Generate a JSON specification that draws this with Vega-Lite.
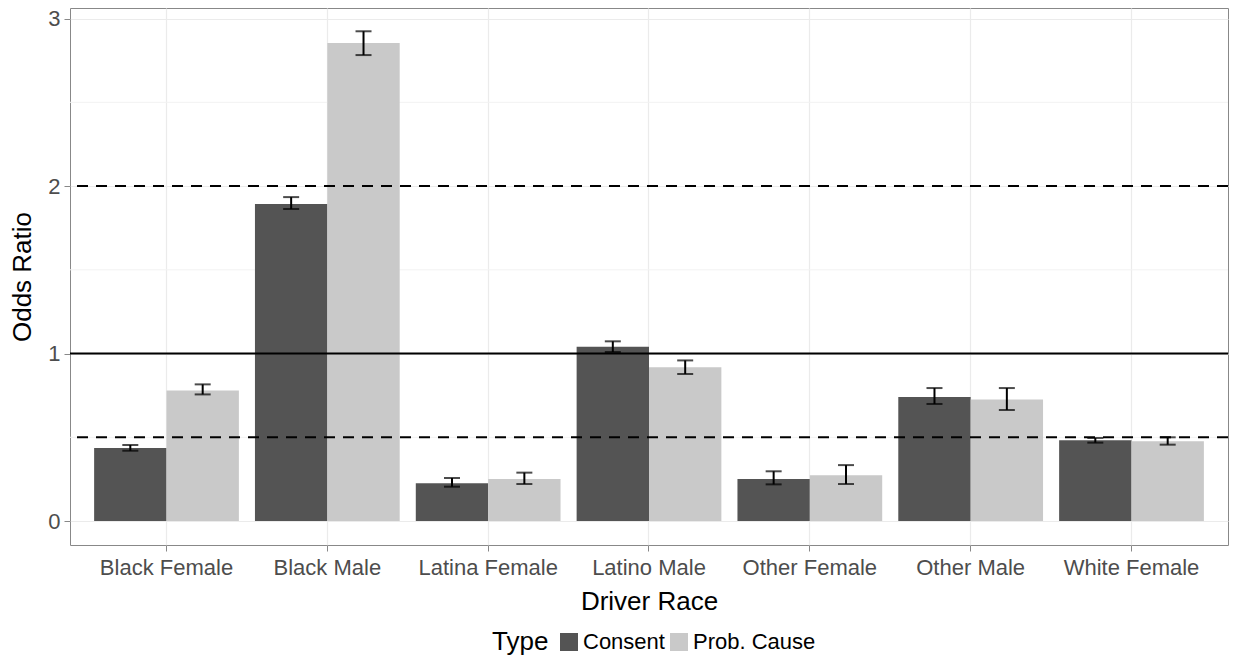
{
  "$schema": "https://vega.github.io/schema/vega-lite/v6.json",
  "width": 1158,
  "height": 537,
  "autosize": {"type": "none"},
  "padding": {"left": 70, "top": 8, "right": 5, "bottom": 113},
  "background": "white",
  "config": {
    "font": "Liberation Sans",
    "view": {"stroke": "#888888", "strokeWidth": 1},
    "axis": {"domain": false, "labelFont": "Liberation Sans", "titleFont": "Liberation Sans", "titleFontWeight": "normal", "titleColor": "#000000", "labelColor": "#4d4d4d", "tickColor": "#888888", "gridColor": "#ebebeb", "gridWidth": 1.2}
  },
  "datasets": {
    "odds": [
      {"race": "Black Female", "type": "Consent", "or": 0.436, "lo": 0.42, "hi": 0.454},
      {"race": "Black Female", "type": "Prob. Cause", "or": 0.78, "lo": 0.756, "hi": 0.816},
      {"race": "Black Male", "type": "Consent", "or": 1.893, "lo": 1.863, "hi": 1.934},
      {"race": "Black Male", "type": "Prob. Cause", "or": 2.854, "lo": 2.782, "hi": 2.924},
      {"race": "Latina Female", "type": "Consent", "or": 0.225, "lo": 0.205, "hi": 0.257},
      {"race": "Latina Female", "type": "Prob. Cause", "or": 0.251, "lo": 0.221, "hi": 0.289},
      {"race": "Latino Male", "type": "Consent", "or": 1.041, "lo": 1.009, "hi": 1.073},
      {"race": "Latino Male", "type": "Prob. Cause", "or": 0.918, "lo": 0.878, "hi": 0.959},
      {"race": "Other Female", "type": "Consent", "or": 0.251, "lo": 0.219, "hi": 0.297},
      {"race": "Other Female", "type": "Prob. Cause", "or": 0.273, "lo": 0.221, "hi": 0.334},
      {"race": "Other Male", "type": "Consent", "or": 0.74, "lo": 0.699, "hi": 0.794},
      {"race": "Other Male", "type": "Prob. Cause", "or": 0.726, "lo": 0.663, "hi": 0.794},
      {"race": "White Female", "type": "Consent", "or": 0.482, "lo": 0.468, "hi": 0.496},
      {"race": "White Female", "type": "Prob. Cause", "or": 0.476, "lo": 0.456, "hi": 0.5}
    ]
  },
  "layer": [
    {
      "data": {"values": [{"y": 0.5}, {"y": 1.5}, {"y": 2.5}]},
      "mark": {"type": "rule", "color": "#f2f2f2", "strokeWidth": 1},
      "encoding": {"y": {"field": "y", "type": "quantitative", "scale": {"domain": [-0.143, 3.063], "nice": false, "zero": false}}}
    },
    {
      "data": {"name": "odds"},
      "mark": {"type": "bar"},
      "encoding": {
        "x": {
          "field": "race", "type": "nominal", "title": "Driver Race",
          "scale": {"paddingInner": 0.1, "paddingOuter": 0.15},
          "axis": {"labelAngle": 0, "labelFontSize": 22, "titleFontSize": 26, "tickSize": 6, "labelPadding": 6, "titlePadding": 10, "bandPosition": 0.5, "grid": true}
        },
        "xOffset": {"field": "type", "type": "nominal", "scale": {"paddingInner": 0, "paddingOuter": 0}},
        "y": {
          "field": "or", "type": "quantitative", "title": "Odds Ratio",
          "scale": {"domain": [-0.143, 3.063], "nice": false, "zero": false},
          "axis": {"values": [0, 1, 2, 3], "format": "d", "labelFontSize": 22, "titleFontSize": 26, "tickSize": 6, "labelPadding": 4, "titlePadding": 12, "grid": true}
        },
        "color": {
          "field": "type", "type": "nominal", "title": "Type",
          "scale": {"domain": ["Consent", "Prob. Cause"], "range": ["#545454", "#c9c9c9"]},
          "legend": {"orient": "none", "legendX": 422, "legendY": 623, "direction": "horizontal", "titleOrient": "left", "titleFontSize": 26, "titleFontWeight": "normal", "titleColor": "#000000", "titlePadding": 9, "titleBaseline": "middle", "labelFontSize": 22, "labelColor": "#000000", "labelOffset": 3, "columnPadding": 3, "symbolType": "square", "symbolSize": 324, "symbolStrokeWidth": 0}
        }
      }
    },
    {
      "data": {"values": [{"y": 0.5}, {"y": 2}]},
      "mark": {"type": "rule", "color": "#000000", "strokeWidth": 2, "strokeDash": [11, 8]},
      "encoding": {"y": {"field": "y", "type": "quantitative"}}
    },
    {
      "data": {"values": [{"y": 1}]},
      "mark": {"type": "rule", "color": "#000000", "strokeWidth": 2},
      "encoding": {"y": {"field": "y", "type": "quantitative"}}
    },
    {
      "data": {"name": "odds"},
      "mark": {"type": "rule", "color": "#000000", "strokeWidth": 2},
      "encoding": {
        "x": {"field": "race", "type": "nominal"},
        "xOffset": {"field": "type", "type": "nominal"},
        "y": {"field": "lo", "type": "quantitative"},
        "y2": {"field": "hi"}
      }
    },
    {
      "data": {"name": "odds"},
      "mark": {"type": "tick", "color": "#000000", "thickness": 2, "size": 16},
      "encoding": {
        "x": {"field": "race", "type": "nominal"},
        "xOffset": {"field": "type", "type": "nominal"},
        "y": {"field": "lo", "type": "quantitative"}
      }
    },
    {
      "data": {"name": "odds"},
      "mark": {"type": "tick", "color": "#000000", "thickness": 2, "size": 16},
      "encoding": {
        "x": {"field": "race", "type": "nominal"},
        "xOffset": {"field": "type", "type": "nominal"},
        "y": {"field": "hi", "type": "quantitative"}
      }
    }
  ]
}
